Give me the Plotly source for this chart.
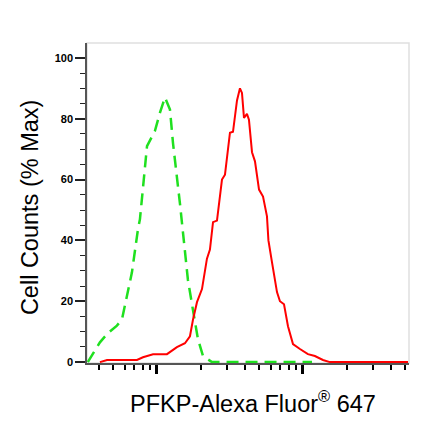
import plotly.graph_objects as go

# isotype control (green, dashed)
ctrl_x = [336, 407, 461, 532, 576, 623, 674, 741, 765, 855, 969, 1049, 1135,
          1228, 1288, 1438, 1507, 1630, 1766, 1910, 2066, 2381, 5070, 11530]
ctrl_y = [0, 6.5, 9.5, 12, 14, 21.6, 29.5, 43.6, 47, 71, 76, 82, 87,
          83, 72, 52, 42, 27, 17, 7.5, 2, 0, 0, 0]

# PFKP stained sample (red)
pfkp_x = [407, 455, 730, 802, 940, 1171, 1370, 1555, 1683, 1766, 1880, 2034,
          2200, 2306, 2421, 2577, 2788, 2923, 3162, 3317, 3533, 3702, 3822,
          3945, 4133, 4266, 4477, 4691, 5000, 5326, 5668, 5800, 6136, 6637,
          6955, 7413, 7893, 8543, 9534, 10810, 12070, 13700, 15300, 52400]
pfkp_y = [0, 0.7, 0.7, 1.6, 2.6, 2.6, 4.9, 6.2, 8.5, 14, 19.7, 24,
          34, 37, 46, 46.5, 60, 61.6, 75.4, 75.7, 86, 90, 88.5,
          80.3, 81.6, 79.7, 69, 66, 56.7, 54.4, 47.9, 40, 32.8, 23,
          20, 19, 11.8, 5.9, 4.3, 2.6, 2, 0.7, 0, 0]

x_major = [1000, 10000]
x_minor = [400, 500, 600, 700, 800, 900,
           2000, 3000, 4000, 5000, 6000, 7000, 8000, 9000,
           20000, 30000, 40000, 50000]
y_major = [0, 20, 40, 60, 80, 100]

X_TITLE = "PFKP-Alexa Fluor<sup>®</sup> 647"
Y_TITLE = "Cell Counts (% Max)"


def make_figure():
    fig = go.Figure()
    fig.add_trace(go.Scatter(x=ctrl_x, y=ctrl_y, mode='lines', name='control',
                             line=dict(color='#1fe01f', width=2.5, dash='12px,7px')))
    fig.add_trace(go.Scatter(x=pfkp_x, y=pfkp_y, mode='lines', name='PFKP',
                             line=dict(color='#ff0000', width=2)))

    # page body has an 8px margin, so the figure is drawn 8px smaller/shifted
    fig.update_layout(template="simple_white",
                      showlegend=False,
                      width=424,
                      height=425,
                      margin=dict(l=79, r=23, t=35, b=70, pad=0),
                      paper_bgcolor='white',
                      plot_bgcolor='white',
                      font=dict(family="Arial, Liberation Sans", color='black'),
                      )

    fig.update_xaxes(type='log', range=[2.521, 4.726], automargin=False,
                     showline=True, linecolor='#555555', linewidth=1.5,
                     tickmode='array', tickvals=x_major, showticklabels=False,
                     ticks='outside', ticklen=9, tickwidth=2.5, tickcolor='black',
                     minor=dict(tickmode='array', tickvals=x_minor, ticks='outside',
                                ticklen=5, tickwidth=1.5, tickcolor='black'),
                     showgrid=False, zeroline=False)
    fig.update_yaxes(range=[-0.3, 104.9], automargin=False,
                     showline=True, linecolor='#555555', linewidth=1.5,
                     tickmode='array', tickvals=y_major,
                     ticks='outside', ticklen=10, tickwidth=2, tickcolor='#222222',
                     tickfont=dict(size=11, weight='bold'),
                     minor=dict(dtick=5, ticks='outside', ticklen=5, tickwidth=1,
                                tickcolor='#222222'),
                     showgrid=False, zeroline=False)

    # grey frame on top / right
    fig.add_shape(type='rect', xref='paper', yref='paper', x0=0, x1=1, y0=0, y1=1,
                  line=dict(color='#999999', width=1.5),
                  fillcolor='rgba(0,0,0,0)', layer='below')

    fig.add_annotation(text=X_TITLE, xref='paper', yref='paper', x=0.516, y=0,
                       yanchor='middle', yshift=-39, showarrow=False,
                       font=dict(size=23.5, color='black'))
    fig.add_annotation(text=Y_TITLE, xref='paper', yref='paper', x=0, y=0.484,
                       xanchor='center', xshift=-57, textangle=-90, showarrow=False,
                       font=dict(size=23.5, color='black'))
    return fig


fig = make_figure()
fig.write_html("out.html")
